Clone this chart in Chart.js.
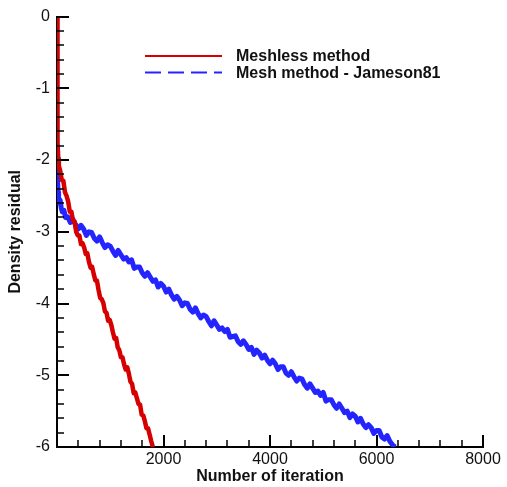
<!DOCTYPE html>
<html>
<head>
<meta charset="utf-8">
<script src="https://cdn.jsdelivr.net/npm/chart.js@4/dist/chart.umd.min.js"></script>
<style>
  html, body { margin: 0; padding: 0; background: #fff; }
  canvas { display: block; }
</style>
</head>
<body>
<canvas id="c" width="507" height="487"></canvas>
<script>
// Convergence history: density residual (log10) against iteration count
const meshlessIter = [
  0, 4, 8, 12, 16, 22, 35, 60, 90, 120, 150, 180, 210, 240, 270, 300, 330, 360, 390, 420,
  450, 480, 510, 540, 570, 600, 630, 660, 690, 720, 750, 780, 810, 840, 870, 900, 930, 960,
  990, 1020, 1050, 1080, 1110, 1140, 1170, 1200, 1230, 1260, 1290, 1320, 1350, 1380, 1410,
  1440, 1470, 1500, 1530, 1560, 1590, 1620, 1650, 1680, 1710, 1740, 1770, 1800
];
const meshlessResidual = [
  0, -0.5, -1.0, -1.4, -1.75, -1.98, -2.08, -2.15, -2.28, -2.29, -2.45, -2.5, -2.58, -2.72,
  -2.72, -2.84, -2.86, -3.0, -3.05, -3.05, -3.17, -3.16, -3.22, -3.31, -3.3, -3.42, -3.5,
  -3.49, -3.59, -3.68, -3.68, -3.81, -3.92, -3.94, -3.99, -4.11, -4.13, -4.24, -4.23, -4.3,
  -4.4, -4.49, -4.48, -4.61, -4.65, -4.75, -4.75, -4.85, -4.92, -4.89, -4.98, -5.09, -5.12,
  -5.25, -5.24, -5.32, -5.4, -5.41, -5.55, -5.56, -5.64, -5.74, -5.74, -5.83, -5.92, -6.0
];

const meshIter = [
  0, 8, 15, 22, 30, 45, 60, 80, 100, 130, 160, 200, 250, 300, 350, 400, 450, 500, 550, 600,
  650, 700, 750, 800, 850, 900, 950, 1000, 1050, 1100, 1150, 1200, 1250, 1300, 1350, 1400,
  1450, 1500, 1550, 1600, 1650, 1700, 1750, 1800, 1850, 1900, 1950, 2000, 2050, 2100, 2150,
  2200, 2250, 2300, 2350, 2400, 2450, 2500, 2550, 2600, 2650, 2700, 2750, 2800, 2850, 2900,
  2950, 3000, 3050, 3100, 3150, 3200, 3250, 3300, 3350, 3400, 3450, 3500, 3550, 3600, 3650,
  3700, 3750, 3800, 3850, 3900, 3950, 4000, 4050, 4100, 4150, 4200, 4250, 4300, 4350, 4400,
  4450, 4500, 4550, 4600, 4650, 4700, 4750, 4800, 4850, 4900, 4950, 5000, 5050, 5100, 5150,
  5200, 5250, 5300, 5350, 5400, 5450, 5500, 5550, 5600, 5650, 5700, 5750, 5800, 5850, 5900,
  5950, 6000, 6050, 6100, 6150, 6200, 6250, 6300, 6350
];
const meshResidual = [
  -1.87, -2.05, -2.3, -2.45, -2.52, -2.6, -2.56, -2.67, -2.72, -2.7, -2.8,
  -2.79, -2.87, -2.83, -2.9, -2.96, -2.91, -2.96, -3.05, -3.0, -3.01, -3.09, -3.13, -3.07,
  -3.15, -3.22, -3.18, -3.2, -3.27, -3.33, -3.26, -3.32, -3.38, -3.36, -3.42, -3.39, -3.51,
  -3.49, -3.49, -3.57, -3.62, -3.57, -3.63, -3.69, -3.67, -3.77, -3.72, -3.76, -3.84, -3.8,
  -3.88, -3.94, -3.9, -3.95, -4.03, -3.99, -4.0, -4.08, -4.12, -4.06, -4.14, -4.2, -4.16,
  -4.18, -4.25, -4.31, -4.24, -4.3, -4.36, -4.34, -4.39, -4.36, -4.47, -4.46, -4.45, -4.53,
  -4.57, -4.52, -4.57, -4.64, -4.61, -4.71, -4.65, -4.69, -4.76, -4.72, -4.79, -4.84, -4.79,
  -4.84, -4.92, -4.88, -4.88, -4.97, -5.0, -4.95, -5.02, -5.08, -5.04, -5.05, -5.13, -5.18,
  -5.12, -5.18, -5.24, -5.22, -5.28, -5.24, -5.36, -5.34, -5.34, -5.41, -5.46, -5.4, -5.46,
  -5.52, -5.5, -5.59, -5.54, -5.57, -5.65, -5.6, -5.68, -5.73, -5.69, -5.73, -5.81, -5.77,
  -5.77, -5.86, -5.89, -5.84, -5.92, -5.97, -6.0
];

const xTickValues = [2000, 4000, 6000, 8000];
const yTickValues = [0, -1, -2, -3, -4, -5, -6];

const FONT = '"Liberation Sans", Arial, Helvetica, sans-serif';
const RED = 'rgb(214, 0, 0)';
const BLUE = 'rgb(36, 36, 255)';

function toPoints(xs, ys) {
  return xs.map((x, i) => ({ x: x, y: ys[i] }));
}

// Inward major/minor tick marks along the left and bottom axes
const inwardTicks = {
  id: 'inwardTicks',
  afterDraw(chart) {
    const { ctx, chartArea, scales } = chart;
    const xs = scales.x, ys = scales.y;
    ctx.save();
    ctx.strokeStyle = '#000';
    for (let v = 0; v <= 8000; v += 400) {
      const px = Math.round(xs.getPixelForValue(v));
      const major = v % 2000 === 0;
      ctx.lineWidth = major ? 2 : 1.5;
      ctx.beginPath();
      ctx.moveTo(px, chartArea.bottom);
      ctx.lineTo(px, chartArea.bottom - (major ? 12 : 7));
      ctx.stroke();
    }
    for (let k = 0; k <= 30; k++) {
      const v = -k / 5;
      const py = Math.round(ys.getPixelForValue(v));
      const major = k % 5 === 0;
      ctx.lineWidth = major ? 2 : 1.5;
      ctx.beginPath();
      ctx.moveTo(chartArea.left, py);
      ctx.lineTo(chartArea.left + (major ? 12 : 7), py);
      ctx.stroke();
    }
    ctx.restore();
  }
};

// Line legend placed inside the plot area
const lineLegend = {
  id: 'lineLegend',
  afterDraw(chart) {
    const { ctx } = chart;
    const rows = [
      { y: 56, dash: [] },
      { y: 72.5, dash: [16, 7] }
    ];
    ctx.save();
    chart.data.datasets.forEach((ds, i) => {
      const r = rows[i];
      ctx.strokeStyle = ds.borderColor;
      ctx.lineWidth = 2;
      ctx.setLineDash(r.dash);
      ctx.beginPath();
      ctx.moveTo(145, r.y);
      ctx.lineTo(222, r.y);
      ctx.stroke();
      ctx.setLineDash([]);
      ctx.fillStyle = '#111';
      ctx.font = 'bold 16px ' + FONT;
      ctx.textAlign = 'left';
      ctx.textBaseline = 'middle';
      ctx.fillText(ds.label, 236, r.y + 1);
    });
    ctx.restore();
  }
};

new Chart(document.getElementById('c'), {
  type: 'line',
  data: {
    datasets: [
      {
        label: 'Meshless method',
        data: toPoints(meshlessIter, meshlessResidual),
        borderColor: RED,
        borderWidth: 4.5,
        pointRadius: 0,
        tension: 0,
        borderJoinStyle: 'round'
      },
      {
        label: 'Mesh method - Jameson81',
        data: toPoints(meshIter, meshResidual),
        borderColor: BLUE,
        borderWidth: 5,
        pointRadius: 0,
        tension: 0,
        borderJoinStyle: 'round'
      }
    ]
  },
  options: {
    responsive: false,
    animation: false,
    events: [],
    layout: { padding: { top: 11, right: 24, left: 0, bottom: 0 } },
    plugins: {
      legend: { display: false },
      tooltip: { enabled: false }
    },
    scales: {
      x: {
        type: 'linear',
        min: 0,
        max: 8000,
        afterFit(scale) { scale.height = 40; },
        afterBuildTicks(scale) {
          scale.ticks = [0].concat(xTickValues).map(v => ({ value: v }));
        },
        grid: { drawOnChartArea: false, drawTicks: false },
        border: { display: true, color: '#000', width: 2 },
        ticks: {
          padding: 3,
          color: '#111',
          font: { family: FONT, size: 16 },
          maxRotation: 0,
          callback: v => (xTickValues.includes(v) ? String(v) : '')
        },
        title: {
          display: true,
          text: 'Number of iteration',
          color: '#111',
          font: { family: FONT, size: 16, weight: 'bold' },
          padding: { top: 0, bottom: 1 }
        }
      },
      y: {
        type: 'linear',
        min: -6,
        max: 0,
        afterFit(scale) { scale.width = 57; },
        afterBuildTicks(scale) {
          scale.ticks = yTickValues.map(v => ({ value: v }));
        },
        grid: { drawOnChartArea: false, drawTicks: false },
        border: { display: true, color: '#000', width: 2 },
        ticks: {
          padding: 7,
          color: '#111',
          font: { family: FONT, size: 16 },
          callback: v => String(v)
        },
        title: {
          display: true,
          text: 'Density residual',
          color: '#111',
          font: { family: FONT, size: 16, weight: 'bold' },
          padding: { top: 6, bottom: 0 }
        }
      }
    }
  },
  plugins: [inwardTicks, lineLegend]
});
</script>
</body>
</html>
